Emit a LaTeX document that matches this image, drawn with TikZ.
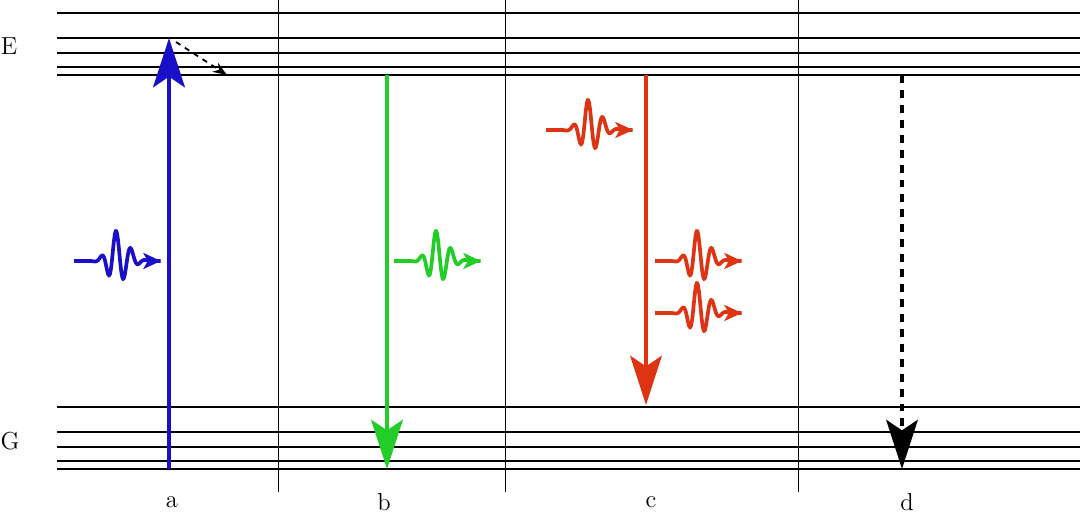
\documentclass[tikz,border=0pt]{standalone}
\usetikzlibrary{arrows.meta}
\definecolor{absblue}{RGB}{25,15,200}
\definecolor{fluogreen}{RGB}{35,205,40}
\definecolor{stimred}{RGB}{222,52,20}
\tikzset{
  level/.style={line width=1.7pt},
  divider/.style={line width=0.55pt},
  trans/.style={-{Stealth[length=28pt,width=18pt,inset=6pt]}},
  lbl/.style={font=\fontsize{14}{16}\selectfont, inner sep=0pt},
  photon/.pic={
    \draw[line width=2.1pt, -{Stealth[length=10pt,width=9pt,inset=2.5pt]}, pic actions]
      plot[domain=0:\photonlen, samples=180, smooth]
      (\x,{-26*exp(-((\x-42)/(\x<42 ? 11 : 16))^2)*(cos(360*(\x-42)/15)+0.15)});
  }
}
\newcommand\photonlen{87}
\begin{document}
\begin{tikzpicture}[x=0.02cm,y=-0.02cm]
  \useasboundingbox (0,0) rectangle (1080,517);
  % energy levels
  \foreach \y in {13,38,53,67,75,407,432,447,461,469}
    \draw[level] (57,\y) -- (1080,\y);
  % dividers
  \foreach \x in {278,505,798}
    \draw[divider] (\x,0) -- (\x,492);
  % labels
  \node[lbl] (E) at (9,46) {E};
  \node[lbl] (G) at (10,441) {G};
  \node[lbl] (a) at (172,502) {a};
  \node[lbl] (b) at (384,502) {b};
  \node[lbl] (c) at (651,502) {c};
  \node[lbl] (d) at (907,502) {d};
  % end points
  \coordinate (aG) at (169,469);
  \coordinate (aE) at (169,38);
  \coordinate (vs) at (176,42);
  \coordinate (ve) at (227,75);
  \coordinate (bE) at (387,75);
  \coordinate (bG) at (387,469);
  \coordinate (cE) at (646,75);
  \coordinate (cG) at (646,405);
  \coordinate (dE) at (902,75);
  \coordinate (dG) at (902,469);
  % a: absorption
  \draw[trans, absblue, line width=2.8pt] (aG) -- (aE);
  \draw[dashed, line width=1pt, -{Stealth[length=8pt,width=6pt]}] (vs) -- (ve);
  \pic[absblue] at (74,261) {photon};
  % b: fluorescence
  \draw[trans, fluogreen, line width=2.3pt] (bE) -- (bG);
  \pic[fluogreen] at (394,261) {photon};
  % c: stimulated emission
  \draw[trans, stimred, line width=2pt] (cE) -- (cG);
  \pic[stimred] at (546,130) {photon};
  \pic[stimred] at (655,261) {photon};
  \pic[stimred] at (655,313) {photon};
  % d: non-radiative
  \draw[trans, line width=1.8pt, dash pattern=on 4.5pt off 4pt] (dE) -- (dG);
\end{tikzpicture}
\end{document}
